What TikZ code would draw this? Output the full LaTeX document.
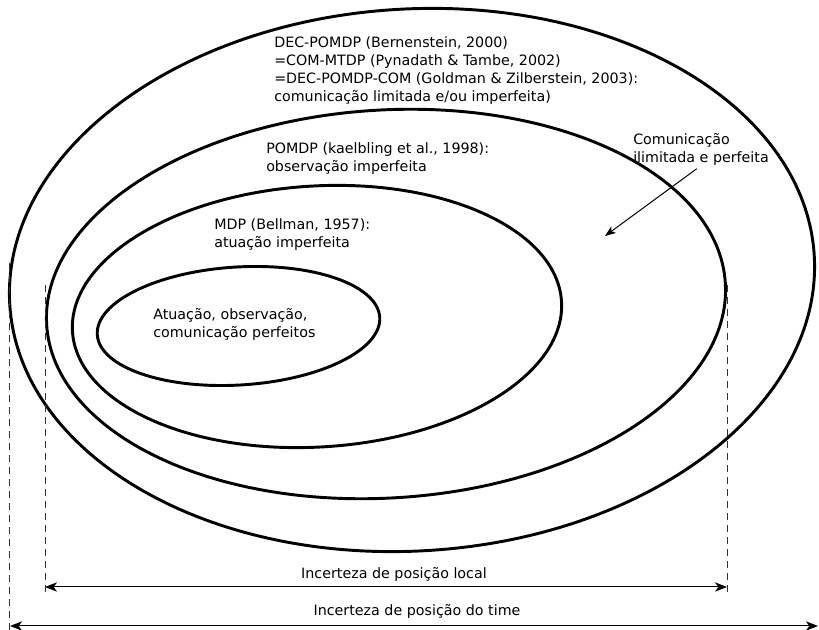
\documentclass[tikz,border=0pt]{standalone}
\usepackage{fontspec}
\setmainfont{DejaVu Sans}
\usetikzlibrary{shapes.geometric,arrows.meta}
\newcommand{\pix}{0.75pt}

\begin{document}
\begin{tikzpicture}[x=\pix, y=-\pix,
    oval/.style={draw, ellipse, line width=2.2pt, inner sep=0pt, rotate=3.5},
    txt/.style={align=left, anchor=north west, inner sep=0pt, font=\fontsize{10.7}{13.5}\selectfont},
    lbl/.style={anchor=base, inner sep=0pt, font=\fontsize{10.7}{13.5}\selectfont},
    guide/.style={dash pattern=on 5.5pt off 3.5pt, line width=0.6pt, black!80},
    dim/.style={{Stealth[length=9pt,width=7pt,inset=2.5pt]}-{Stealth[length=9pt,width=7pt,inset=2.5pt]}, line width=0.75pt},
    note/.style={-{Stealth[length=8pt,width=6pt,inset=2pt]}, line width=0.75pt}]
    \useasboundingbox (0,0) rectangle (819,630);

    % Ellipses
    \node[oval, minimum width=604.5pt, minimum height=406.5pt] (decpomdp) at (412,280) {};
    \node[oval, minimum width=510pt, minimum height=291pt] (pomdp) at (386,304) {};
    \node[oval, minimum width=367.5pt, minimum height=195.75pt] (mdp) at (317,316.5) {};
    \node[oval, minimum width=212.25pt, minimum height=88.5pt] (perfeito) at (238.5,326) {};

    % Texts
    \node[txt] (decpomdp-txt) at (274,36) {DEC-POMDP (Bernenstein, 2000)\\=COM-MTDP (Pynadath \& Tambe, 2002)\\=DEC-POMDP-COM (Goldman \& Zilberstein, 2003):\\comunicação limitada e/ou imperfeita)};
    \node[txt] (pomdp-txt) at (266,142) {POMDP (kaelbling et al., 1998):\\observação imperfeita};
    \node[txt] (mdp-txt) at (214,218) {MDP (Bellman, 1957):\\atuação imperfeita};
    \node[txt] (perfeito-txt) at (153,308) {Atuação, observação,\\comunicação perfeitos};
    \node[txt] (com-txt) at (633,133) {Comunicação\\ilimitada e perfeita};

    \coordinate (com-tip) at (605,236);
    \draw[note, shorten <=4pt] (com-txt.south) -- (com-tip);

    % Guides
    \coordinate (time-top) at (9,263);
    \coordinate (time-bot) at (9,630);
    \coordinate (local-l-top) at (45,285);
    \coordinate (local-l-bot) at (45,594);
    \coordinate (local-r-top) at (727,285);
    \coordinate (local-r-bot) at (727,594);
    \draw[guide] (time-top) -- (time-bot);
    \draw[guide] (local-l-top) -- (local-l-bot);
    \draw[guide] (local-r-top) -- (local-r-bot);

    % Dimensions
    \coordinate (local-a) at (45,587);
    \coordinate (local-b) at (727,587);
    \coordinate (time-a) at (10,626);
    \coordinate (time-b) at (818,626);
    \draw[dim] (local-a) -- (local-b);
    \draw[dim] (time-a) -- (time-b);
    \node[lbl] (local-lbl) at (394,579) {Incerteza de posição local};
    \node[lbl] (time-lbl) at (417,616) {Incerteza de posição do time};

\end{tikzpicture}
\end{document}
